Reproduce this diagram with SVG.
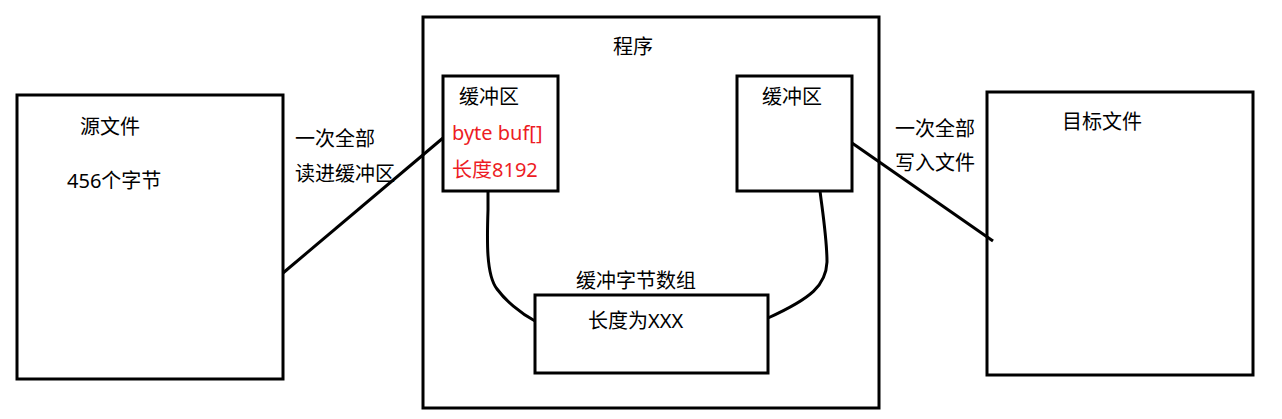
<svg xmlns="http://www.w3.org/2000/svg" width="1282" height="419" viewBox="0 0 1282 419">
<style>
.box{fill:none;stroke:#000;stroke-width:3}
.t{font-family:"Noto Sans","Noto Sans CJK SC",sans-serif;font-size:20px;fill:#000}
.r{fill:#ED1C24}
.c{fill:none;stroke:#000;stroke-width:3}
</style>
<rect width="1282" height="419" fill="#fff"/>
<g id="source">
<rect class="box" x="17" y="95" width="266" height="284"/>
<text class="t" x="80" y="134">源文件</text>
<text class="t" x="67" y="188">456个字节</text>
</g>
<g id="program">
<rect class="box" x="423" y="17" width="456" height="391"/>
<text class="t" x="613" y="54">程序</text>
</g>
<g id="buffer-in">
<rect class="box" x="443" y="76" width="115" height="115"/>
<text class="t" x="459" y="104">缓冲区</text>
<text class="t r" x="452" y="140">byte buf[]</text>
<text class="t r" x="452" y="177">长度8192</text>
</g>
<g id="buffer-out">
<rect class="box" x="737" y="76" width="115" height="115"/>
<text class="t" x="762" y="104">缓冲区</text>
</g>
<g id="byte-array">
<rect class="box" x="535" y="295" width="233" height="78"/>
<text class="t" x="576" y="288">缓冲字节数组</text>
<text class="t" x="588" y="328">长度为XXX</text>
</g>
<g id="target">
<rect class="box" x="987" y="92" width="266" height="283"/>
<text class="t" x="1062" y="129">目标文件</text>
</g>
<g id="connectors">
<line class="c" x1="283" y1="273" x2="443" y2="138"/>
<path class="c" d="M488,191 L488,210 C487,240 486,275 497,289 C505,300 520,313 535,321"/>
<path class="c" d="M820,191 C823,215 827,240 827,262 C826,285 812,298 768,318"/>
<line class="c" x1="852" y1="143" x2="993" y2="241"/>
</g>
<g id="labels">
<text class="t" x="295" y="146">一次全部</text>
<text class="t" x="295" y="181">读进缓冲区</text>
<text class="t" x="895" y="136">一次全部</text>
<text class="t" x="895" y="170">写入文件</text>
</g>
</svg>
